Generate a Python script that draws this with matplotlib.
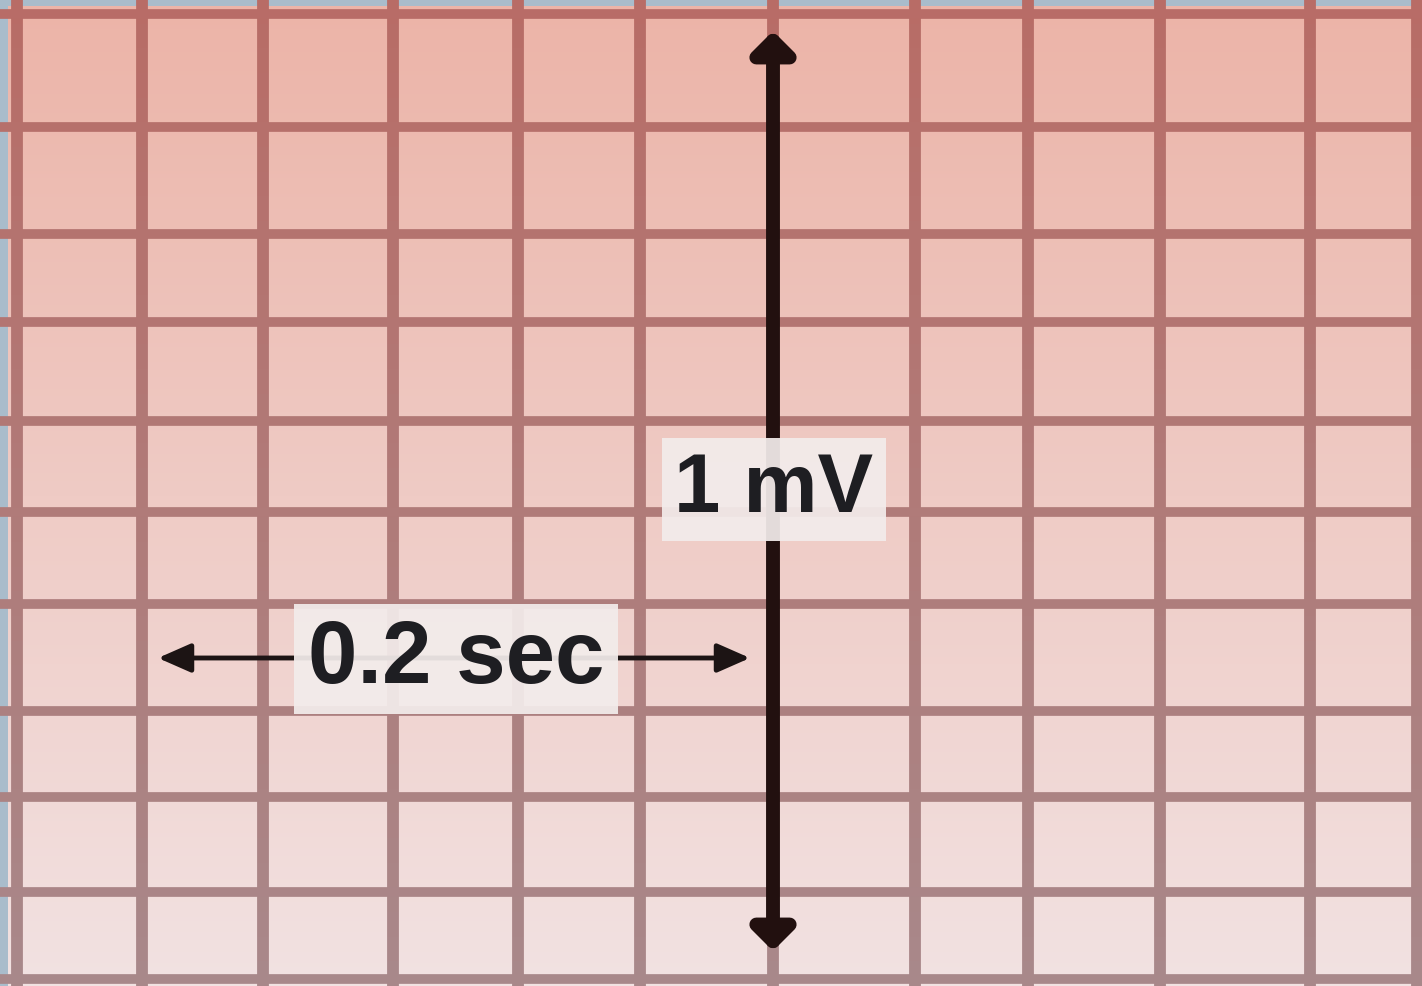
import matplotlib.pyplot as plt
import numpy as np
from matplotlib.collections import LineCollection

# grid line positions (image pixel units)
grid_x = [17, 142, 263, 393, 518, 640, 773, 915, 1028, 1160, 1310, 1417]
grid_y = [15, 128, 235, 323, 422, 513, 605, 712, 798, 893, 980]

# calibration marks: 1 mV vertical, 0.2 sec horizontal
mv_x = 773
mv_y = [32, 952]
sec_y = 659
sec_x = [158, 750]

labels = ["1 mV", "0.2 sec"]
label_pos = [(774, 490), (456, 660)]
label_size = [60, 64]

W, H = 1422, 987
fig = plt.figure(figsize=(W / 100, H / 100), dpi=100)
fig.patch.set_facecolor('#a9bccb')
ax = fig.add_axes([0, 0, 1, 1])
ax.set_xlim(0, W)
ax.set_ylim(H, 0)
ax.axis('off')

# paper background: salmon at the top, fading to a pale pink below
top = np.array([236, 180, 168]) / 255
bot = np.array([242, 226, 226]) / 255
t = np.linspace(0, 1, 256)[:, None, None]
grad = top * (1 - t) + bot * t
ax.imshow(grad, extent=(8, W, H, 7), aspect='auto', zorder=0)

# grid colour drifts from red-brown (top) to greyish mauve (bottom)
c_top = np.array([184, 108, 102]) / 255
c_bot = np.array([168, 136, 138]) / 255
def gcol(y):
    f = min(max(y / H, 0), 1)
    return tuple(c_top * (1 - f) + c_bot * f)

ys = np.linspace(0, H, 41)
for x in grid_x:
    segs = [[(x, ys[i]), (x, ys[i + 1])] for i in range(len(ys) - 1)]
    cols = [gcol((ys[i] + ys[i + 1]) / 2) for i in range(len(ys) - 1)]
    ax.add_collection(LineCollection(segs, colors=cols, linewidths=8.5,
                                     capstyle='butt', zorder=1))
for y in grid_y:
    ax.axhline(y, color=gcol(y), lw=7, zorder=1)

ax.annotate('', xy=(mv_x, mv_y[0]), xytext=(mv_x, mv_y[1]),
            arrowprops=dict(arrowstyle='<|-|>,head_length=0.3,head_width=0.3',
                            color='#22100f', lw=10, mutation_scale=40,
                            shrinkA=0, shrinkB=0), zorder=3)
ax.annotate('', xy=(sec_x[0], sec_y), xytext=(sec_x[1], sec_y),
            arrowprops=dict(arrowstyle='<|-|>,head_length=0.5,head_width=0.22',
                            color='#1c1414', lw=3.5, mutation_scale=40,
                            shrinkA=0, shrinkB=0), zorder=3)

for txt, (x, y), fs in zip(labels, label_pos, label_size):
    ax.text(x, y, txt, fontsize=fs, fontweight='bold', family='Liberation Sans',
            color='#1e1e22', ha='center', va='center', zorder=4,
            bbox=dict(boxstyle='square,pad=0.15', fc='#f3eceb', ec='none', alpha=0.93))

fig.savefig('out.png', dpi=100)
